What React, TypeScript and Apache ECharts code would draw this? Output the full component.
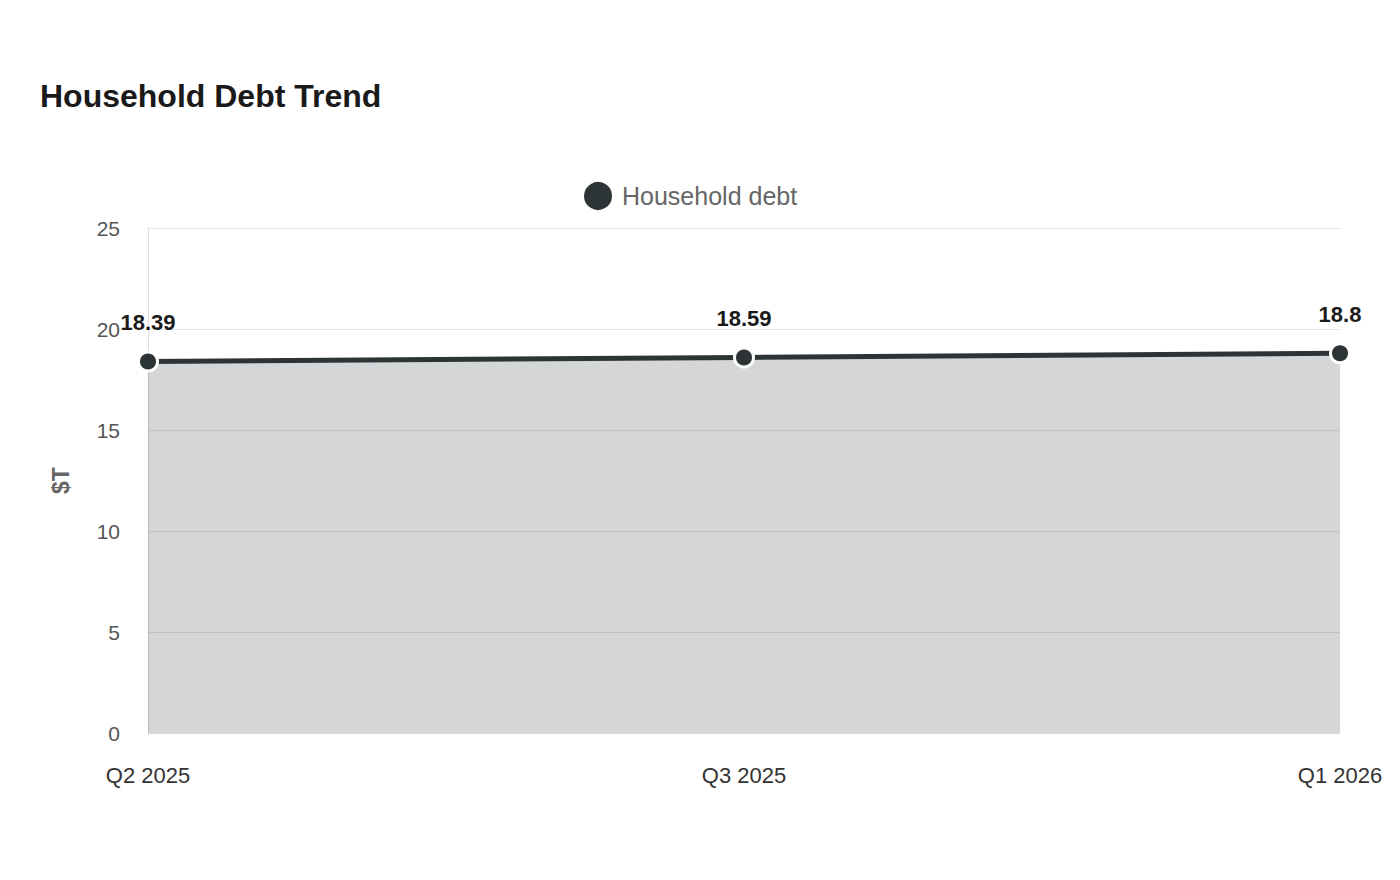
import React, { useEffect, useRef } from "react";
import * as echarts from "echarts";

const categories = ["Q2 2025", "Q3 2025", "Q1 2026"];
const debtValues = [18.39, 18.59, 18.8];
const seriesName = "Household debt";

const App = () => {
  const chartRef = useRef<HTMLDivElement | null>(null);

  useEffect(() => {
    const chart = echarts.init(chartRef.current as HTMLDivElement, null, { renderer: "svg" });
    chart.setOption({
      animation: false,
      textStyle: { fontFamily: "Liberation Sans, Arial, sans-serif" },
      // 标题
      title: {
        text: "Household Debt Trend",
        left: 27,
        top: 67,
        textStyle: { fontSize: 32, fontWeight: "bold", color: "#1a1a1a" },
      },
      legend: {
        top: 167,
        left: 569,
        icon: "circle",
        itemWidth: 30,
        itemHeight: 30,
        textStyle: { fontSize: 25, color: "#666666", padding: [0, 0, 0, 4] },
        data: [seriesName],
      },
      // 页面有 8px 的 body margin，这里按图表容器坐标换算
      grid: { left: 140, right: 52, top: 220, bottom: 139 },
      xAxis: {
        type: "category",
        data: categories,
        boundaryGap: false,
        axisTick: { show: false },
        axisLine: { lineStyle: { color: "#dddddd" } },
        axisLabel: { fontSize: 22, color: "#333333", margin: 31 },
      },
      yAxis: {
        type: "value",
        min: 0,
        max: 25,
        interval: 5,
        name: "$T",
        nameLocation: "middle",
        nameGap: 76,
        nameTextStyle: { fontSize: 23, fontWeight: "bold", color: "#666666" },
        axisLine: { show: true, lineStyle: { color: "#dddddd" } },
        axisTick: { show: false },
        axisLabel: { fontSize: 21, color: "#555555", margin: 28 },
        splitLine: { lineStyle: { color: "#e6e6e6" } },
      },
      series: [
        {
          name: seriesName,
          type: "line",
          data: debtValues,
          symbol: "circle",
          symbolSize: 19,
          lineStyle: { color: "#2d3436", width: 5 },
          itemStyle: { color: "#2d3436", borderColor: "#ffffff", borderWidth: 3 },
          areaStyle: { color: "#2d3436", opacity: 0.2 },
          label: {
            show: true,
            position: "top",
            distance: 17,
            fontSize: 22,
            fontWeight: "bold",
            color: "#1a1a1a",
          },
        },
      ],
    });
    return () => {
      chart.dispose();
    };
  }, []);

  return <div ref={chartRef} style={{ width: 1384, height: 864 }}></div>;
};

export default App;
